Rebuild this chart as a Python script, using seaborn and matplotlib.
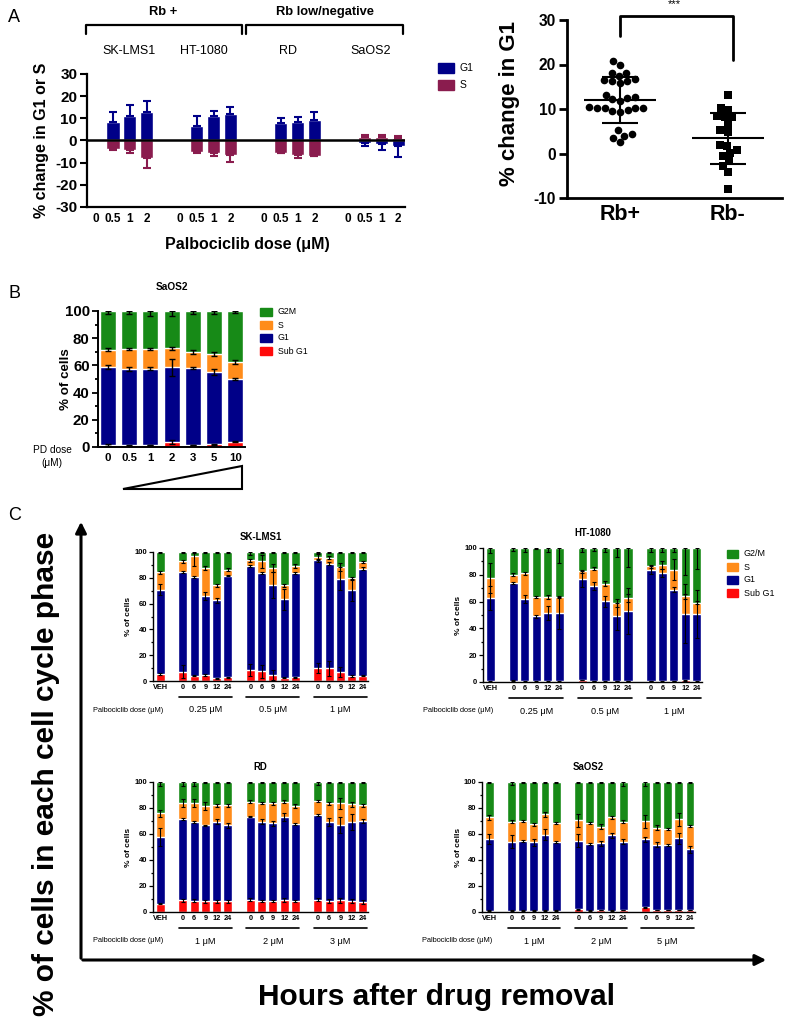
import numpy as np
import matplotlib
matplotlib.use('Agg')
import matplotlib.pyplot as plt
import matplotlib.transforms as mtransforms
import seaborn as sns
from matplotlib.lines import Line2D
from matplotlib.patches import Rectangle, Polygon, FancyArrowPatch

# ── Panel A (left): % change in G1 / S per cell line and dose ─────────
a_lines = ['SK-LMS1', 'HT-1080', 'RD', 'SaOS2']
a_doses = ['0', '0.5', '1', '2']
a_g1     = [8.5, 10.9, 12.7,  6.4, 11.1, 12.0,  7.9, 8.2, 9.4,  -1.2, -1.5, -2.3]
a_g1_err = [4.2,  5.2,  4.9,  4.5,  2.0,  3.2,  2.1, 2.4, 3.3,   1.2,  2.7,  5.0]
a_s      = [-3.8, -4.5, -8.0, -5.0, -5.8, -6.7, -5.5, -6.4, -6.8, 1.4, 1.6, 1.2]
a_s_err  = [0.4,  1.3,  4.6,  0.8,  1.0,  3.2,  0.2,  1.3,  0.2,  1.3, 1.1, 0.9]

# ── Panel A (right): % change in G1, Rb+ vs Rb- ──────────────────────
rb_pos = [20.7, 19.9, 17.5, 18.2, 18.2, 16.7, 16.6, 16.4, 15.8, 16.4, 13.2, 12.2,
          12.8, 12.5, 11.8, 10.3, 10.2, 10.4, 10.2, 9.8, 10.3, 9.5, 9.3, 5.2,
          4.4, 4.0, 3.4, 2.5]
rb_neg = [13.1, 9.7, 10.3, 8.2, 8.1, 8.4, 6.6, 5.2, 4.9, 1.7, 1.9, 0.15, 0.7,
          -0.6, -1.7, -4.1, -2.8, -7.9]

# ── Panel B: SaOS2 cell cycle vs PD dose ──────────────────────────────
b_doses = ['0', '0.5', '1', '2', '3', '5', '10']
b_sub = [1.5, 1.2, 1.5, 3.5, 1.5, 2.0, 4.0]
b_g1  = [57.5, 56.3, 56.0, 55.0, 56.5, 53.0, 46.0]
b_s   = [12.5, 14.5, 14.5, 14.0, 12.0, 13.5, 12.5]
b_g2m = [28.5, 28.0, 28.0, 27.5, 30.0, 31.5, 37.5]
b_sub_err = [0.5, 0.3, 0.3, 1.5, 0.3, 0.5, 0.5]
b_g1_err  = [1.5, 1.5, 1.0, 6.0, 1.0, 2.0, 1.0]
b_s_err   = [1.0, 1.0, 1.0, 1.0, 1.5, 1.5, 1.5]
b_g2m_err = [2.0, 2.0, 3.5, 3.5, 2.0, 2.5, 1.5]

# ── Panel C: hours after drug removal ─────────────────────────────────
c_hours = ['VEH', '0', '6', '9', '12', '24', '0', '6', '9', '12', '24',
           '0', '6', '9', '12', '24']

sk_sub = [5.4, 7.2, 4.1, 4.6, 2.0, 2.8, 8.5, 7.7, 4.6, 2.6, 2.8, 10.3, 9.8, 7.0, 3.9, 4.1]
sk_g1  = [65.5, 77.3, 76.6, 61.1, 60.6, 78.9, 80.7, 76.1, 69.6, 60.8, 81.0, 83.3, 81.2, 72.4, 66.5, 83.0]
sk_s   = [13.4, 8.3, 16.3, 21.9, 11.6, 4.6, 4.4, 9.0, 13.4, 10.8, 5.1, 2.5, 4.6, 9.0, 9.5, 5.2]
sk_g2m = [15.7, 7.2, 3.0, 12.4, 25.8, 13.7, 6.4, 7.2, 12.4, 25.8, 11.1, 3.9, 4.4, 11.6, 20.1, 7.7]
sk_sub_err = [0.5, 5, 0.5, 1, 0.5, 0.5, 5, 5, 4, 0.5, 0.5, 4, 6, 4, 1, 0.5]
sk_g1_err  = [4, 1, 0.5, 3, 2, 0.5, 0.5, 0.5, 10, 8, 1, 1, 1, 9, 8, 1]
sk_s_err   = [1, 1, 8, 1.5, 1, 1, 1, 5, 3, 1, 1.5, 2, 1, 3, 1, 1]
sk_g2m_err = [0.5, 1, 1, 1, 1, 1, 2, 1, 1, 1, 1, 1, 1, 1, 1, 1]

ht_sub = [0.5, 1.0, 0.5, 0.5, 0.5, 0.5, 1.5, 0.8, 0.5, 0.8, 0.8, 0.8, 0.5, 0.8, 1.2, 0.5]
ht_g1  = [62.4, 72.9, 61.2, 48.5, 51.0, 51.0, 75.6, 71.1, 59.7, 48.2, 52.2, 82.5, 80.8, 68.1, 49.8, 50.5]
ht_s   = [14.7, 6.2, 19.3, 14.4, 11.9, 11.9, 5.5, 12.7, 13.2, 10.0, 9.7, 3.0, 6.3, 14.9, 12.9, 8.2]
ht_g2m = [22.4, 19.9, 19.0, 36.6, 36.6, 36.6, 17.4, 15.4, 26.6, 41.0, 37.3, 13.7, 12.4, 16.2, 36.1, 40.8]
ht_sub_err = [0.3] * 16
ht_g1_err  = [9, 1, 3, 1, 5, 12, 6, 3, 4, 10, 17, 3, 3, 2, 22, 18]
ht_s_err   = [11, 1, 1, 1, 1.5, 1, 1, 1, 2, 3, 3, 1, 3, 8, 2, 1]
ht_g2m_err = [4, 2, 3, 1, 3, 11, 3, 2, 3, 7, 14, 3, 3, 3, 20, 16]

rd_sub = [6.4, 9.0, 8.7, 8.2, 8.2, 8.2, 9.5, 8.5, 8.5, 9.3, 8.5, 9.5, 8.7, 9.0, 8.2, 8.0]
rd_g1  = [51.4, 62.5, 60.5, 58.6, 61.2, 58.6, 63.8, 60.9, 59.6, 64.0, 59.1, 65.1, 60.5, 57.8, 61.0, 61.7]
rd_s   = [18.0, 12.5, 14.8, 14.9, 12.6, 15.2, 11.5, 14.6, 15.4, 11.5, 14.1, 10.7, 14.3, 16.7, 13.8, 12.3]
rd_g2m = [24.2, 16.0, 16.0, 18.3, 18.0, 18.0, 15.2, 16.0, 16.5, 15.2, 18.3, 14.7, 16.5, 16.5, 17.0, 18.0]
rd_sub_err = [0.5, 1, 1, 1, 1, 1, 1, 1, 1, 1.5, 1, 1, 1.5, 2, 1.5, 1.5]
rd_g1_err  = [7, 1, 1, 0.5, 2, 2, 0.5, 2, 2, 3, 1, 0.5, 3, 6, 6, 1.5]
rd_s_err   = [3, 3, 3, 3, 1, 1, 1, 1, 1, 1, 1.5, 1, 1, 4, 2, 1]
rd_g2m_err = [3, 3, 3, 1, 1, 1, 1, 1, 1, 1, 1, 2, 1, 1, 1, 1]

sa_sub = [1.0, 1.0, 1.0, 1.0, 1.0, 1.0, 2.0, 1.0, 1.5, 1.0, 1.5, 3.5, 1.5, 1.5, 1.5, 1.5]
sa_g1  = [55.0, 53.2, 53.5, 52.5, 58.6, 52.7, 52.8, 51.4, 51.5, 58.1, 52.5, 52.3, 50.2, 49.9, 55.1, 46.6]
sa_s   = [16.8, 15.2, 15.4, 13.9, 15.7, 14.9, 15.9, 16.2, 12.6, 13.7, 15.4, 13.9, 13.1, 12.4, 14.6, 18.0]
sa_g2m = [27.2, 30.6, 30.1, 32.6, 24.7, 31.4, 29.3, 31.4, 34.4, 27.2, 30.6, 30.3, 35.2, 36.2, 28.8, 33.9]
sa_sub_err = [0.3, 0.3, 0.3, 0.3, 0.3, 0.3, 0.5, 0.3, 0.3, 0.3, 0.3, 0.5, 0.3, 0.3, 0.3, 0.3]
sa_g1_err  = [4, 5, 1, 3, 4, 1, 5, 1, 2, 2, 2, 2, 2, 1, 4, 3]
sa_s_err   = [2, 1, 1, 1, 2, 1, 5, 1, 2, 1, 1, 5, 2, 1, 5, 1]
sa_g2m_err = [1, 2, 1, 1, 1, 1, 1, 1, 1, 1, 3, 3, 1, 1, 1, 1]

# ── style ─────────────────────────────────────────────────────────────
sns.set_style('ticks', {'axes.edgecolor': 'black', 'xtick.color': 'black',
                        'ytick.color': 'black', 'text.color': 'black'})
plt.rcParams['font.family'] = ['Liberation Sans', 'DejaVu Sans']
plt.rcParams['axes.unicode_minus'] = False

NAVY = '#000088'
MAROON = '#8a1c4e'
GREEN = '#178a17'
ORANGE = '#ff8c1a'
RED = '#ff0a0a'
PHASE_COLORS = [RED, NAVY, ORANGE, GREEN]   # sub G1, G1, S, G2M

W, H = 800, 1019
fig = plt.figure(figsize=(8, 10.19), dpi=100)


def box(x0, y0, x1, y1):
    return fig.add_axes([x0 / W, 1 - y1 / H, (x1 - x0) / W, (y1 - y0) / H])


def ftext(x, y, s, **kw):
    fig.text(x / W, 1 - y / H, s, **kw)


def fline(xs, ys, **kw):
    fig.add_artist(Line2D([x / W for x in xs], [1 - y / H for y in ys], **kw))


def flegend(x, y0, dy, labels, colors, fs, pw=12, ph=8):
    for i, (lab, col) in enumerate(zip(labels, colors)):
        y = y0 + i * dy
        fig.add_artist(Rectangle((x / W, 1 - (y + ph / 2) / H), pw / W, ph / H,
                                 color=col, transform=fig.transFigure))
        ftext(x + pw + 6, y, lab, fontsize=fs, va='center')


def stacked(ax, pos, phases, errs, width, elw, cap):
    tops = np.cumsum(np.array(phases, dtype=float), axis=0)
    for k in [3, 2, 1, 0]:
        sns.barplot(x=pos, y=tops[k], native_scale=True, color=PHASE_COLORS[k],
                    saturation=1, width=width, errorbar=None, ax=ax)
    for k in range(3):
        ax.errorbar(pos, tops[k], yerr=errs[k], fmt='none', ecolor='black',
                    elinewidth=elw, capsize=cap, capthick=elw, zorder=5)
    e = np.array(errs[3], dtype=float)
    ax.errorbar(pos, tops[3], yerr=[e, np.zeros_like(e)], fmt='none', ecolor='black',
                elinewidth=elw, capsize=cap, capthick=elw, zorder=5)


def bold_ticks(ax):
    for lbl in ax.get_xticklabels() + ax.get_yticklabels():
        lbl.set_fontweight('bold')


# ── Panel A left ──────────────────────────────────────────────────────
ax = box(87, 74, 405, 207)
a_pos = [5 * k + j for k in range(4) for j in (1, 2, 3)]
tick_pos = [5 * k + j for k in range(4) for j in range(4)]
sns.barplot(x=a_pos, y=a_g1, native_scale=True, color=NAVY, saturation=1,
            width=0.78, errorbar=None, ax=ax)
sns.barplot(x=a_pos, y=a_s, native_scale=True, color=MAROON, saturation=1,
            width=0.78, errorbar=None, ax=ax)
for vals, errs, col in [(a_g1, a_g1_err, NAVY), (a_s, a_s_err, MAROON)]:
    v = np.array(vals)
    e = np.array(errs)
    lo = np.where(v < 0, e, 0)
    hi = np.where(v >= 0, e, 0)
    ax.errorbar(a_pos, v, yerr=[lo, hi], fmt='none', ecolor=col, elinewidth=1.5,
                capsize=3, capthick=1.5)
ax.axhline(0, color='black', lw=1.8, zorder=6)
ax.set_xlim(-0.55, 18.4)
ax.set_ylim(-30, 30)
ax.set_yticks(range(-30, 31, 10))
ax.set_xticks(tick_pos)
ax.set_xticklabels(a_doses * 4)
ax.tick_params(axis='x', length=0, pad=4, labelsize=8.5)
ax.tick_params(axis='y', length=5, width=1.5, labelsize=11, pad=2)
bold_ticks(ax)
sns.despine(ax=ax)
for sp in ax.spines.values():
    sp.set_linewidth(1.6)
ax.set_xlabel('')
ax.set_ylabel('')

ftext(42, 140, '% change in G1 or S', rotation=90, fontsize=11.5,
      fontweight='bold', ha='center', va='center')
ftext(247, 244, 'Palbociclib dose (μM)', fontsize=11.5, fontweight='bold',
      ha='center', va='center')
for name, xc in zip(a_lines, [129, 204, 288, 371]):
    ftext(xc, 51, name, fontsize=9, ha='center', va='center')
ftext(163, 12, 'Rb +', fontsize=9.3, fontweight='bold', ha='center', va='center')
ftext(325, 12, 'Rb low/negative', fontsize=9.3, fontweight='bold', ha='center', va='center')
fline([86, 86, 242, 242], [34, 24.5, 24.5, 34], color='black', lw=1.6)
fline([246, 246, 403, 403], [34, 24.5, 24.5, 34], color='black', lw=1.6)
flegend(438, 68, 17, ['G1', 'S'], [NAVY, MAROON], 7.5, pw=16, ph=10)
ftext(8, 18, 'A', fontsize=13, ha='left', va='center')

# ── Panel A right ─────────────────────────────────────────────────────
ax = box(567, 20, 782, 198)
groups = ['Rb+', 'Rb-']
sns.swarmplot(x=['Rb+'] * len(rb_pos), y=rb_pos, order=groups, marker='o',
              color='black', size=5.5, ax=ax)
sns.swarmplot(x=['Rb-'] * len(rb_neg), y=rb_neg, order=groups, marker='s',
              color='black', size=5.3, ax=ax)
for i, vals in enumerate([rb_pos, rb_neg]):
    m = np.mean(vals)
    sd = np.std(vals, ddof=1)
    ax.hlines(m, i - 0.33, i + 0.33, color='black', lw=1.5, zorder=4)
    ax.hlines([m - sd, m + sd], i - 0.17, i + 0.17, color='black', lw=1.5, zorder=4)
    ax.vlines(i, m - sd, m + sd, color='black', lw=1.5, zorder=4)
ax.set_xlim(-0.49, 1.5)
ax.set_ylim(-10, 30)
ax.set_yticks(range(-10, 31, 10))
ax.tick_params(axis='x', length=0, labelsize=15.5, pad=4)
ax.tick_params(axis='y', length=6, width=2, labelsize=11.2, pad=2)
bold_ticks(ax)
sns.despine(ax=ax)
for sp in ax.spines.values():
    sp.set_linewidth(2)
ax.set_xlabel('')
ax.set_ylabel('')
ax.plot([0, 0, 1.05, 1.05], [26.4, 30.9, 30.9, 21.0], color='black', lw=2,
        clip_on=False)
ax.text(0.5, 33.6, '***', ha='center', va='center', fontsize=8)
ftext(510, 103, '% change in G1', rotation=90, fontsize=16, fontweight='bold',
      ha='center', va='center')

# ── Panel B ───────────────────────────────────────────────────────────
ax = box(98, 311, 245, 447)
b_pos = list(range(len(b_doses)))
stacked(ax, b_pos, [b_sub, b_g1, b_s, b_g2m],
        [b_sub_err, b_g1_err, b_s_err, b_g2m_err], width=0.75, elw=1.0, cap=2.5)
ax.set_xlim(-0.47, 6.46)
ax.set_ylim(0, 100)
ax.set_yticks(range(0, 101, 20))
ax.set_yticks(range(10, 100, 20), minor=True)
ax.set_xticks(b_pos)
ax.set_xticklabels(b_doses)
ax.tick_params(axis='x', length=0, labelsize=8.2, pad=4)
ax.tick_params(axis='y', length=4, width=1.3, labelsize=10.8, pad=2)
ax.tick_params(axis='y', which='minor', length=2.5, width=1.3)
bold_ticks(ax)
sns.despine(ax=ax)
for sp in ax.spines.values():
    sp.set_linewidth(1.4)
ax.set_xlabel('')
ax.set_ylabel('')
ftext(66, 379, '% of cells', rotation=90, fontsize=9.6, fontweight='bold',
      ha='center', va='center')
ftext(172, 287, 'SaOS2', fontsize=7.3, fontweight='bold', ha='center', va='center')
ftext(52, 450, 'PD dose', fontsize=7.3, ha='center', va='center')
ftext(52, 463, '(μM)', fontsize=7.3, ha='center', va='center')
fig.add_artist(Polygon([(123 / W, 1 - 489 / H), (242 / W, 1 - 489 / H),
                        (242 / W, 1 - 466 / H)], closed=True, fill=False,
                       edgecolor='black', lw=1.5, transform=fig.transFigure))
flegend(260, 312, 13, ['G2M', 'S', 'G1', 'Sub G1'],
        [GREEN, ORANGE, NAVY, RED], 6.3, pw=12, ph=8)
ftext(8, 293, 'B', fontsize=13, ha='left', va='center')

# ── Panel C ───────────────────────────────────────────────────────────
c_pos = [0] + [2 + j for j in range(5)] + [8 + j for j in range(5)] + [14 + j for j in range(5)]
c_groups = [(2, 6), (8, 12), (14, 18)]


def cycle_panel(rect, title, phases, errs, dose_labels):
    x0, y0, x1, y1 = rect
    ax = box(x0, y0, x1, y1)
    hpx = y1 - y0
    stacked(ax, c_pos, phases, errs, width=0.8, elw=0.8, cap=1.6)
    ax.set_xlim(-0.65, 18.45)
    ax.set_ylim(0, 100)
    ax.set_yticks(range(0, 101, 20))
    ax.set_yticks(range(10, 100, 20), minor=True)
    ax.set_xticks(c_pos)
    ax.set_xticklabels(c_hours)
    ax.tick_params(axis='x', length=0, labelsize=5.3, pad=2)
    ax.tick_params(axis='y', length=3, width=0.9, labelsize=5.5, pad=1)
    ax.tick_params(axis='y', which='minor', length=1.8, width=0.9)
    bold_ticks(ax)
    sns.despine(ax=ax)
    for sp in ax.spines.values():
        sp.set_linewidth(1.0)
    ax.set_xlabel('')
    ax.set_ylabel('')
    ax.text(0.5, 1 + 15 / hpx, title, transform=ax.transAxes, ha='center',
            va='center', fontsize=6.9, fontweight='bold')
    ax.text(-24 / (x1 - x0), 0.5, '% of cells', transform=ax.transAxes,
            rotation=90, ha='center', va='center', fontsize=6, fontweight='bold')
    trans = mtransforms.blended_transform_factory(ax.transData, ax.transAxes)
    for (g0, g1), lab in zip(c_groups, dose_labels):
        ax.plot([g0 - 0.35, g1 + 0.35], [-16 / hpx] * 2, color='black', lw=1.2,
                transform=trans, clip_on=False)
        ax.text((g0 + g1) / 2, -29 / hpx, lab, transform=trans, ha='center',
                va='center', fontsize=6.6)
    ax.text(10 / (x1 - x0), -29 / hpx, 'Palbociclib dose (μM)', transform=ax.transAxes,
            ha='right', va='center', fontsize=5.3)
    return ax


cycle_panel((153, 552, 368, 681), 'SK-LMS1', [sk_sub, sk_g1, sk_s, sk_g2m],
            [sk_sub_err, sk_g1_err, sk_s_err, sk_g2m_err], ['0.25 μM', '0.5 μM', '1 μM'])
cycle_panel((483, 548, 702, 682), 'HT-1080', [ht_sub, ht_g1, ht_s, ht_g2m],
            [ht_sub_err, ht_g1_err, ht_s_err, ht_g2m_err], ['0.25 μM', '0.5 μM', '1 μM'])
cycle_panel((153, 782, 368, 912), 'RD', [rd_sub, rd_g1, rd_s, rd_g2m],
            [rd_sub_err, rd_g1_err, rd_s_err, rd_g2m_err], ['1 μM', '2 μM', '3 μM'])
cycle_panel((482, 782, 695, 912), 'SaOS2', [sa_sub, sa_g1, sa_s, sa_g2m],
            [sa_sub_err, sa_g1_err, sa_s_err, sa_g2m_err], ['1 μM', '2 μM', '5 μM'])

flegend(727, 554, 13, ['G2/M', 'S', 'G1', 'Sub G1'],
        [GREEN, ORANGE, NAVY, RED], 6.4, pw=11, ph=8)

# big arrows and axis titles of panel C
fig.add_artist(FancyArrowPatch((81 / W, 1 - 961 / H), (81 / W, 1 - 519 / H),
                               arrowstyle='-|>', mutation_scale=16, lw=2.2,
                               color='black', transform=fig.transFigure))
fig.add_artist(FancyArrowPatch((80 / W, 1 - 960 / H), (769 / W, 1 - 960 / H),
                               arrowstyle='-|>', mutation_scale=16, lw=2.2,
                               color='black', transform=fig.transFigure))
ftext(46, 774, '% of cells in each cell cycle phase', rotation=90, fontsize=21.5,
      fontweight='bold', ha='center', va='center')
ftext(437, 997, 'Hours after drug removal', fontsize=21.5, fontweight='bold',
      ha='center', va='center')
ftext(8, 515, 'C', fontsize=13, ha='left', va='center')

fig.savefig('out.png', dpi=100)
